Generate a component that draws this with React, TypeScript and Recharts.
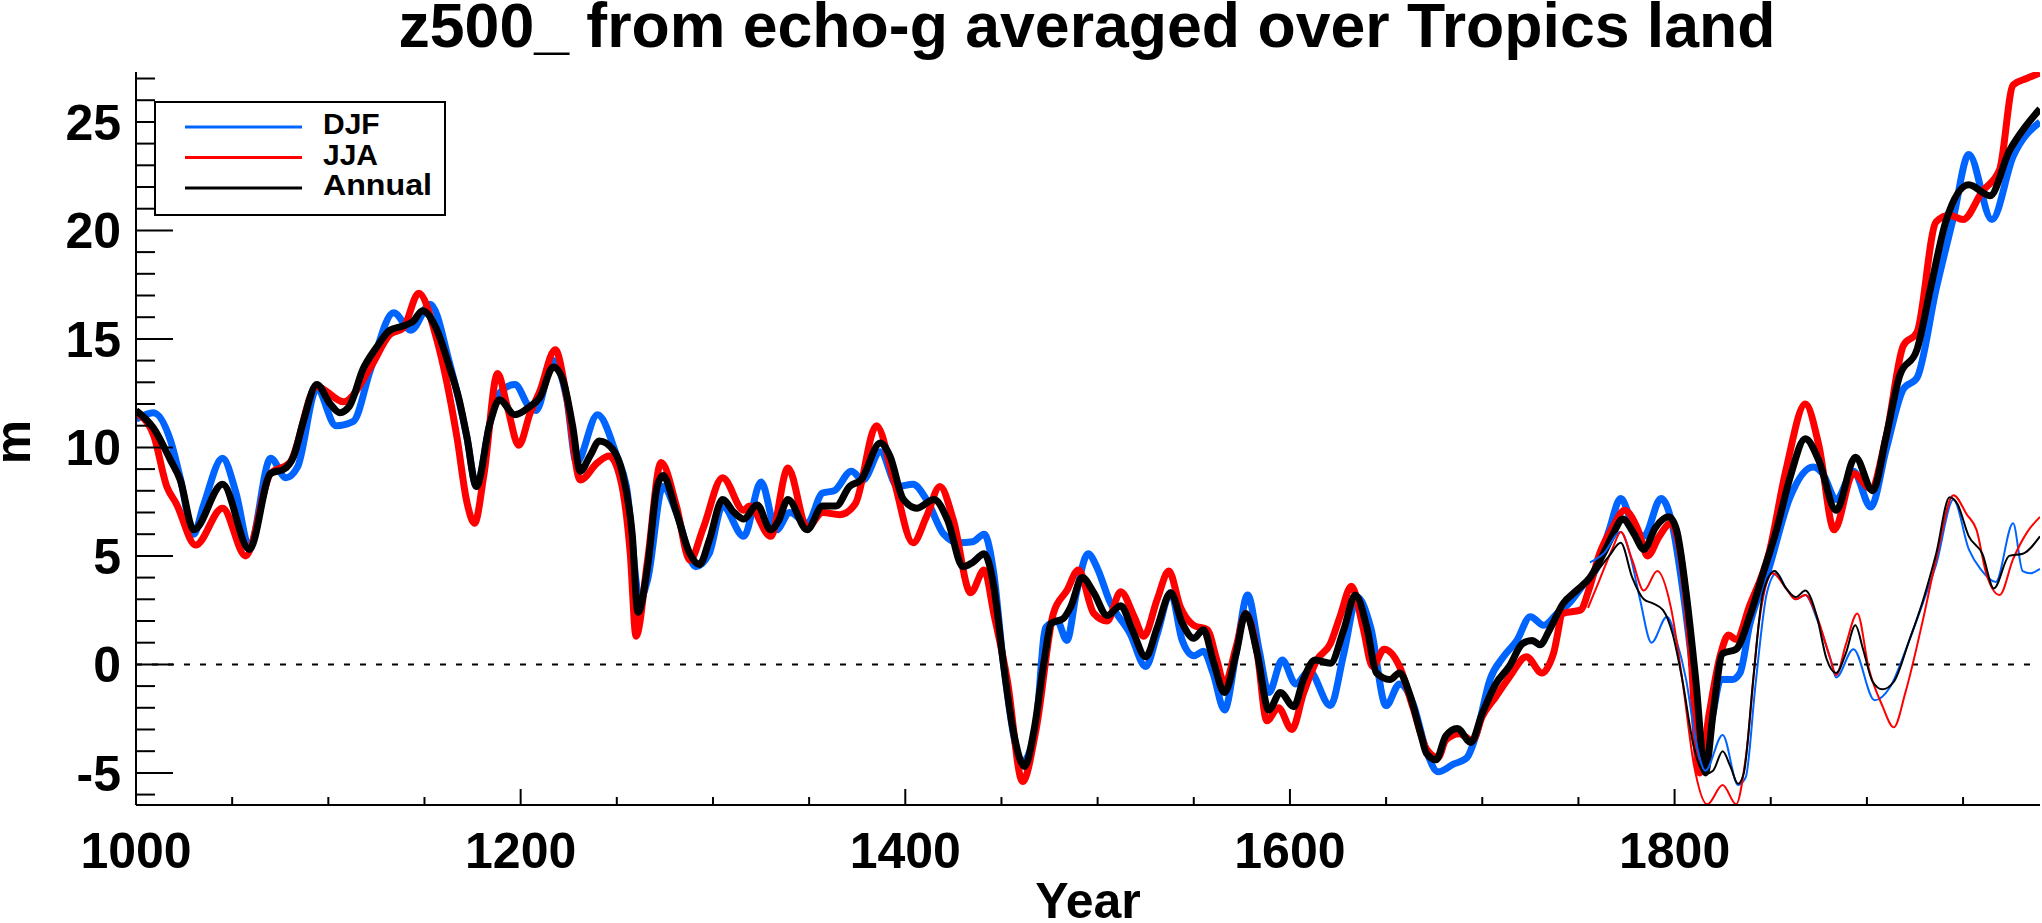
import React from 'react';
import { LineChart, Line, XAxis, YAxis, ReferenceLine, Legend, Customized } from 'recharts';

// ---------- data ----------
const annualYears = [1000,1009,1018,1023,1030,1045,1059,1070,1077,1082,1087,1094,1101,1106,1111,1118,1125,1132,1139,1144,1149,1156,1163,1168,1172,1177,1184,1189,1197,1205,1210,1217,1222,1227,1231,1236,1241,1248,1253,1258,1261,1266,1271,1274,1281,1288,1293,1298,1305,1311,1316,1323,1330,1334,1339,1349,1357,1364,1371,1377,1387,1392,1399,1406,1415,1422,1430,1435,1441,1446,1451,1456,1462,1467,1472,1476,1482,1486,1492,1498,1505,1512,1518,1525,1531,1538,1544,1550,1555,1560,1566,1572,1577,1583,1589,1595,1602,1607,1613,1621,1628,1634,1640,1645,1652,1657,1662,1668,1671,1676,1681,1687,1694,1700,1707,1714,1721,1726,1730,1735,1742,1749,1756,1763,1768,1773,1779,1784,1790,1797,1801,1806,1811,1816,1820,1825,1832,1839,1846,1853,1860,1868,1875,1884,1894,1903,1910,1917,1926,1933,1941,1953,1964,1974,1983,1990];
const annualValues = [11.7,10.9,9.4,8.5,6.2,8.3,5.3,8.8,9.0,9.6,11.2,12.9,12.0,11.6,11.9,13.6,14.6,15.4,15.6,15.8,16.3,15.5,13.7,12.2,10.5,8.2,11.1,12.2,11.5,11.9,12.3,13.7,13.1,11.0,8.9,9.6,10.3,9.9,8.8,6.0,2.4,4.5,8.2,8.7,7.0,5.1,4.6,5.7,7.6,7.0,6.7,7.35,6.2,6.6,7.6,6.2,7.3,7.3,8.2,8.5,10.2,9.6,7.6,7.2,7.6,6.65,4.5,4.7,5.1,3.6,0.05,-3.0,-4.7,-3.0,0.05,1.9,2.1,2.65,4.0,3.3,2.25,2.7,1.6,0.35,1.7,3.3,1.9,1.2,1.6,0.2,-1.3,0.5,2.35,0.5,-2.1,-1.3,-1.95,-0.7,0.2,0.05,1.6,3.2,1.7,-0.4,-0.7,-0.4,-1.3,-3.2,-4.1,-4.4,-3.3,-2.95,-3.6,-2.26,-0.9,-0.1,0.96,1.1,0.9,1.6,2.8,3.4,4.0,5.1,6.0,6.7,6.0,5.3,6.3,6.8,6.2,3.3,-0.7,-5.0,-2.26,0.5,0.7,2.2,4.2,6.2,8.6,10.4,9.4,7.1,9.55,8.0,10.5,13.3,14.5,17.3,20.4,22.1,21.6,23.65,24.85,25.6];

const djfYears = [1000,1009,1018,1023,1030,1035,1045,1052,1059,1070,1078,1084,1094,1104,1113,1122,1134,1143,1153,1163,1172,1177,1184,1189,1197,1205,1208,1217,1224,1229,1240,1250,1255,1262,1266,1274,1281,1291,1298,1305,1316,1325,1333,1340,1349,1357,1363,1372,1378,1387,1396,1404,1411,1420,1428,1435,1441,1446,1451,1461,1468,1473,1479,1484,1489,1495,1500,1506,1517,1525,1531,1538,1544,1550,1555,1560,1566,1572,1578,1584,1589,1596,1603,1610,1621,1628,1635,1642,1650,1657,1664,1671,1677,1685,1692,1697,1704,1711,1718,1725,1732,1739,1745,1752,1759,1766,1772,1778,1784,1793,1799,1804,1810,1815,1820,1824,1830,1834,1839,1849,1860,1872,1877,1884,1893,1902,1910,1919,1926,1936,1945,1953,1965,1976,1990];
const djfValues = [11.3,11.6,10.3,8.6,6.0,7.3,9.5,7.9,5.4,9.5,8.6,9.1,12.7,11.0,11.2,13.6,16.2,15.4,16.6,13.9,10.5,8.2,11.1,12.5,12.9,11.8,11.7,14.0,12.2,9.3,11.5,9.6,8.2,3.0,3.9,8.2,7.0,4.5,5.1,7.3,5.9,8.4,6.2,7.0,6.5,7.9,8.0,8.9,8.5,9.8,8.2,8.3,7.6,6.0,5.6,5.65,6.0,4.2,0.05,-4.5,-2.7,1.7,2.0,1.1,3.3,5.1,4.4,2.96,1.4,-0.1,1.4,3.3,1.1,0.4,0.6,-0.4,-2.1,0.5,3.2,0.65,-1.3,0.2,-0.9,-0.3,-1.9,0.5,3.1,1.7,-1.9,-0.9,-1.8,-4.0,-4.95,-4.6,-4.3,-3.2,-0.7,0.35,1.1,2.2,1.8,2.35,2.8,3.6,4.35,6.2,7.65,6.5,5.9,7.65,6.35,3.6,-0.7,-4.8,-2.26,-0.7,-0.7,-0.4,1.8,4.4,7.7,9.1,8.8,7.6,8.9,7.25,9.9,12.7,13.2,17.3,20.6,23.5,20.5,23.4,25.0];

const jjaYears = [1000,1009,1016,1021,1031,1045,1057,1070,1080,1094,1108,1122,1132,1139,1147,1156,1167,1172,1176,1181,1188,1193,1199,1205,1210,1218,1224,1231,1240,1246,1252,1257,1260,1266,1273,1281,1288,1295,1305,1316,1319,1330,1339,1349,1357,1366,1374,1385,1394,1404,1411,1418,1425,1434,1441,1446,1453,1461,1468,1477,1484,1490,1498,1505,1512,1519,1524,1531,1537,1543,1550,1557,1562,1566,1572,1577,1583,1588,1594,1601,1607,1614,1621,1626,1632,1638,1643,1649,1657,1664,1671,1677,1681,1688,1695,1700,1707,1714,1723,1731,1737,1742,1751,1756,1761,1768,1774,1781,1786,1792,1798,1803,1808,1813,1818,1824,1828,1832,1839,1849,1858,1868,1875,1883,1893,1902,1910,1919,1926,1936,1943,1950,1960,1969,1976,1983,1990];
const jjaValues = [11.6,10.6,8.2,7.4,5.5,7.2,5.0,8.8,9.3,12.8,12.1,13.7,15.2,15.5,17.1,15.1,10.4,7.5,6.5,8.8,13.4,11.9,10.1,11.6,12.6,14.5,12.3,8.5,9.3,9.6,8.5,5.1,1.3,4.8,9.3,7.3,4.8,6.3,8.6,7.1,7.3,5.9,9.05,6.3,7.0,6.9,7.4,11.0,8.5,5.6,6.8,8.2,6.65,3.3,4.35,2.35,-0.7,-5.4,-3.0,2.35,3.4,4.35,2.35,2.0,3.35,2.2,1.3,3.0,4.3,2.65,1.8,1.6,0.2,-0.9,0.8,2.35,0.5,-2.6,-2.0,-3.0,-1.35,0.2,0.95,2.2,3.6,1.7,-0.1,0.7,-0.1,-2.0,-3.9,-4.3,-3.5,-3.2,-3.5,-2.4,-1.5,-0.6,0.35,-0.4,0.5,2.35,2.5,3.6,5.1,6.35,7.1,6.2,5.0,5.9,6.5,5.1,1.1,-5.0,-2.26,0.5,1.35,1.15,2.7,5.1,9.0,12.0,10.1,6.2,8.8,8.1,10.5,14.7,15.3,20.4,20.7,20.5,21.8,22.8,26.7,27.0,27.25];

const djfThinYears = [1756,1763,1772,1777,1782,1788,1796,1801,1806,1811,1816,1825,1833,1837,1842,1848,1853,1858,1863,1868,1874,1881,1884,1893,1904,1912,1922,1929,1936,1945,1953,1959,1967,1976,1981,1985,1990];
const djfThinValues = [4.7,5.1,6.1,5.0,3.0,1.0,2.2,1.1,-0.7,-3.5,-4.9,-3.25,-5.56,-5.2,-1.0,3.3,4.2,3.5,3.0,3.2,2.1,0.26,-0.6,0.7,-1.65,-1.05,1.1,2.8,4.6,7.6,5.3,4.4,3.8,6.5,4.3,4.2,4.4];

const jjaThinYears = [1755,1761,1768,1772,1778,1784,1791,1798,1804,1810,1817,1825,1832,1837,1844,1851,1858,1863,1868,1874,1881,1884,1889,1895,1901,1908,1914,1920,1929,1936,1945,1952,1957,1962,1969,1976,1983,1990];
const jjaThinValues = [2.6,3.9,5.4,6.1,4.8,3.4,4.3,2.65,-0.7,-4.6,-6.45,-5.56,-6.45,-4.3,2.0,4.2,3.5,3.0,3.2,2.2,0.26,-0.5,0.9,2.35,-0.2,-1.9,-2.9,-1.3,2.0,4.85,7.8,6.9,6.2,4.2,3.2,4.85,6.05,6.8];

const annualThinYears = [1759,1766,1772,1778,1784,1789,1794,1799,1804,1810,1816,1820,1825,1829,1833,1836,1841,1846,1852,1858,1863,1868,1874,1879,1884,1889,1894,1898,1903,1908,1914,1922,1929,1936,1943,1947,1953,1960,1966,1974,1981,1990];
const annualThinValues = [4.2,5.0,5.6,4.0,3.0,2.8,2.5,1.4,-0.7,-3.8,-5.05,-4.9,-4.0,-4.7,-5.5,-5.0,-0.6,3.3,4.3,3.5,3.1,3.4,2.2,0.26,-0.4,0.5,1.8,0.7,-0.8,-1.15,-0.8,1.1,2.9,5.1,7.7,7.4,5.9,5.1,3.5,5.0,5.1,5.9];

const xTicks = [1000,1050,1100,1150,1200,1250,1300,1350,1400,1450,1500,1550,1600,1650,1700,1750,1800,1850,1900,1950];
const xLabelYears = [1000,1200,1400,1600,1800];
const yTicks = [-6,-5,-4,-3,-2,-1,0,1,2,3,4,5,6,7,8,9,10,11,12,13,14,15,16,17,18,19,20,21,22,23,24,25,26,27];
const yLabelValues = [-5,0,5,10,15,20,25];
const legendNames = ['DJF','JJA','Annual'];

const titleText = 'z500_ from echo-g averaged over Tropics land';
const xAxisTitle = 'Year';
const yAxisTitle = 'm';

// ---------- styling ----------
const W = 2042;
const H = 923;
const FONT = '"Liberation Sans", Arial, Helvetica, sans-serif';
const BLUE = '#0064ff';
const RED = '#ff0000';
const BLACK = '#000000';
const THICK = 7;
const THIN = 2;

const pts = (years: number[], values: number[]) => years.map((year, i) => ({ year, value: values[i] }));

const BottomTick = (props: any) => {
  const { x, y, payload } = props;
  const v = payload.value;
  const major = xLabelYears.includes(v);
  return (
    <g>
      <line x1={x} x2={x} y1={y} y2={y - (major ? 16 : 8)} stroke="#000" strokeWidth={2} />
      {major && (
        <text x={x} y={y + 63} textAnchor="middle" fontFamily={FONT} fontWeight="bold" fontSize={50} fill="#000">
          {v}
        </text>
      )}
    </g>
  );
};

const TopTick = (props: any) => {
  const { x, y, payload } = props;
  const major = xLabelYears.includes(payload.value);
  return <line x1={x} x2={x} y1={y} y2={y + (major ? 16 : 8)} stroke="#000" strokeWidth={2} />;
};

const LeftTick = (props: any) => {
  const { x, y, payload } = props;
  const v = payload.value;
  const major = yLabelValues.includes(v);
  return (
    <g>
      <line x1={x} x2={x + (major ? 37 : 19)} y1={y} y2={y} stroke="#000" strokeWidth={2} />
      {major && (
        <text x={x - 15} y={y + 18} textAnchor="end" fontFamily={FONT} fontWeight="bold" fontSize={50} fill="#000">
          {v}
        </text>
      )}
    </g>
  );
};

const RightTick = (props: any) => {
  const { x, y, payload } = props;
  const major = yLabelValues.includes(payload.value);
  return <line x1={x} x2={x - (major ? 37 : 19)} y1={y} y2={y} stroke="#000" strokeWidth={2} />;
};

const LegendBox = (props: any) => {
  const payload = (props.payload || []) as any[];
  const items = legendNames
    .map((n) => payload.find((p) => p.value === n))
    .filter(Boolean);
  return (
    <svg width={293} height={116} style={{ display: 'block' }}>
      <rect x={1} y={1} width={290} height={113} fill="#fff" stroke="#000" strokeWidth={2} />
      {items.map((it: any, i: number) => (
        <g key={it.value}>
          <line x1={31} x2={148} y1={26 + i * 30.5} y2={26 + i * 30.5} stroke={it.color} strokeWidth={3} />
          <text x={169} y={33 + i * 30.5} fontFamily={FONT} fontWeight="bold" fontSize={30} fill="#000" textLength={it.value === 'Annual' ? 109 : undefined} lengthAdjust="spacingAndGlyphs">
            {it.value}
          </text>
        </g>
      ))}
    </svg>
  );
};

const Titles = () => (
  <g>
    <text x={1087} y={47} textAnchor="middle" fontFamily={FONT} fontWeight="bold" fontSize={63} fill="#000" textLength={1377} lengthAdjust="spacingAndGlyphs">
      {titleText}
    </text>
    <text x={1088} y={918} textAnchor="middle" fontFamily={FONT} fontWeight="bold" fontSize={50} fill="#000">
      {xAxisTitle}
    </text>
    <text x={30} y={442} textAnchor="middle" fontFamily={FONT} fontWeight="bold" fontSize={50} fill="#000" transform="rotate(-90, 30, 442)">
      {yAxisTitle}
    </text>
  </g>
);

export default function App() {
  return (
    <div style={{ position: 'absolute', left: 0, top: 0, width: W, height: H, background: '#fff' }}>
      <LineChart width={W} height={H} margin={{ top: 72, right: 2, bottom: 58, left: 36 }}>
        <XAxis
          xAxisId="bottom"
          dataKey="year"
          type="number"
          domain={[1000, 1990]}
          allowDataOverflow
          ticks={xTicks}
          interval={0}
          height={60}
          tickSize={0}
          tickMargin={0}
          tick={<BottomTick />}
          axisLine={{ stroke: '#000', strokeWidth: 2 }}
          tickLine={false}
        />
        <XAxis
          xAxisId="top"
          orientation="top"
          dataKey="year"
          type="number"
          domain={[1000, 1990]}
          allowDataOverflow
          ticks={xTicks}
          interval={0}
          height={0}
          tickSize={0}
          tickMargin={0}
          tick={<TopTick />}
          axisLine={{ stroke: '#000', strokeWidth: 2 }}
          tickLine={false}
        />
        <YAxis
          yAxisId="left"
          type="number"
          domain={[-6.48, 27.3]}
          allowDataOverflow
          ticks={yTicks}
          interval={0}
          width={100}
          tickSize={0}
          tickMargin={0}
          tick={<LeftTick />}
          axisLine={{ stroke: '#000', strokeWidth: 2 }}
          tickLine={false}
        />
        <YAxis
          yAxisId="right"
          orientation="right"
          type="number"
          domain={[-6.48, 27.3]}
          allowDataOverflow
          ticks={yTicks}
          interval={0}
          width={0}
          tickSize={0}
          tickMargin={0}
          tick={<RightTick />}
          axisLine={{ stroke: '#000', strokeWidth: 2 }}
          tickLine={false}
        />
        <ReferenceLine xAxisId="bottom" yAxisId="left" y={0} stroke="#000" strokeWidth={2} strokeDasharray="6 10" />
        <Line xAxisId="bottom" yAxisId="left" name="DJF" data={pts(djfYears, djfValues)} dataKey="value" type="monotone" stroke={BLUE} strokeWidth={THICK} dot={false} isAnimationActive={false} />
        <Line xAxisId="bottom" yAxisId="left" name="JJA" data={pts(jjaYears, jjaValues)} dataKey="value" type="monotone" stroke={RED} strokeWidth={THICK} dot={false} isAnimationActive={false} />
        <Line xAxisId="bottom" yAxisId="left" name="Annual" data={pts(annualYears, annualValues)} dataKey="value" type="monotone" stroke={BLACK} strokeWidth={THICK} dot={false} isAnimationActive={false} />
        <Line xAxisId="bottom" yAxisId="left" name="DJF thin" legendType="none" data={pts(djfThinYears, djfThinValues)} dataKey="value" type="monotone" stroke={BLUE} strokeWidth={THIN} dot={false} isAnimationActive={false} />
        <Line xAxisId="bottom" yAxisId="left" name="JJA thin" legendType="none" data={pts(jjaThinYears, jjaThinValues)} dataKey="value" type="monotone" stroke={RED} strokeWidth={THIN} dot={false} isAnimationActive={false} />
        <Line xAxisId="bottom" yAxisId="left" name="Annual thin" legendType="none" data={pts(annualThinYears, annualThinValues)} dataKey="value" type="monotone" stroke={BLACK} strokeWidth={THIN} dot={false} isAnimationActive={false} />
        <Legend
          layout="horizontal"
          align="center"
          verticalAlign="middle"
          content={<LegendBox />}
          wrapperStyle={{ position: 'absolute', left: 154, top: 101, width: 293, height: 116, margin: 0, padding: 0 }}
        />
        <Customized component={Titles} />
      </LineChart>
    </div>
  );
}
